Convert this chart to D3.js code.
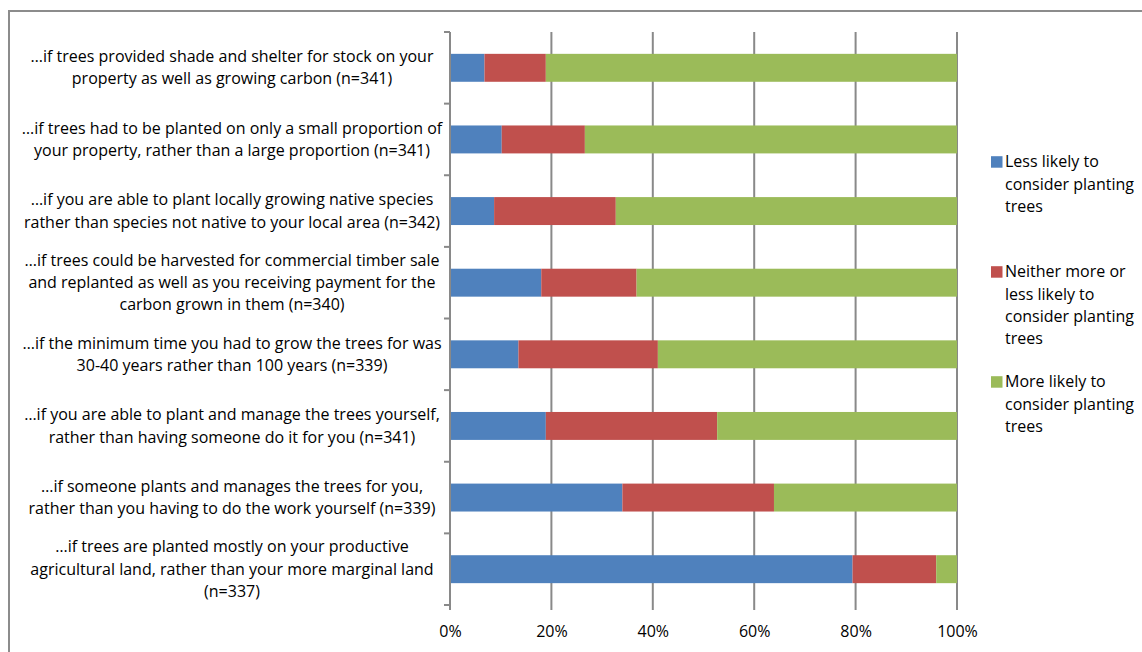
<!DOCTYPE html>
<html><head><meta charset="utf-8">
<script src="https://cdn.jsdelivr.net/npm/d3@7"></script>
<style>
html,body{margin:0;padding:0;background:#fff;}
svg{display:block;}
text{font-family:"Open Sans",sans-serif;fill:#000;}
</style></head>
<body>
<svg id="chart" width="1142" height="652"></svg>
<script>
const categories = [
  ["…if trees provided shade and shelter for stock on your","property as well as growing carbon (n=341)"],
  ["…if trees had to be planted on only a small proportion of","your property, rather than a large proportion (n=341)"],
  ["…if you are able to plant locally growing native species","rather than species not native to your local area (n=342)"],
  ["…if trees could be harvested for commercial timber sale","and replanted as well as you receiving payment for the","carbon grown in them (n=340)"],
  ["…if the minimum time you had to grow the trees for was","30-40 years rather than 100 years (n=339)"],
  ["…if you are able to plant and manage the trees yourself,","rather than having someone do it for you (n=341)"],
  ["…if someone plants and manages the trees for you,","rather than you having to do the work yourself (n=339)"],
  ["…if trees are planted mostly on your productive","agricultural land, rather than your more marginal land","(n=337)"]
];
const lessLikely    = [6.8, 10.2, 8.7, 18.0, 13.5, 18.9, 34.0, 79.4];
const neither       = [12.1, 16.4, 24.0, 18.8, 27.5, 33.8, 29.9, 16.5];
const moreLikely    = [81.1, 73.4, 67.3, 63.2, 59.0, 47.3, 36.1, 4.1];
const seriesNames = [
  ["Less likely to","consider planting","trees"],
  ["Neither more or","less likely to","consider planting","trees"],
  ["More likely to","consider planting","trees"]
];
const seriesColors = ["#4F81BD","#C0504D","#9BBB59"];
const tickValues = [0,20,40,60,80,100];

(function(){
const svg = d3.select("#chart");
const gridColor = "#898989";
const fs = 16;

// outer frame
svg.append("path").attr("d","M9,660 L9,11 L1150,11")
  .attr("fill","none").attr("stroke","#8c8c8c").attr("stroke-width",2);

const pLeft=450, pRight=957, pTop=32, pBottom=605;
const x = d3.scaleLinear().domain([0,100]).range([pLeft,pRight]);
const idx = d3.range(categories.length);
const y = d3.scaleBand().domain(idx).range([pTop,pBottom]).paddingInner(0.61).paddingOuter(0.305);
const step = (pBottom-pTop)/categories.length;

// gridlines
svg.append("g").selectAll("line").data(tickValues.slice(1)).join("line")
  .attr("x1",d=>x(d)).attr("x2",d=>x(d)).attr("y1",pTop).attr("y2",pBottom+5)
  .attr("stroke",gridColor).attr("stroke-width",2);

// stacked bars
const stackData = idx.map(i=>({i, s0:lessLikely[i], s1:neither[i], s2:moreLikely[i]}));
const stack = d3.stack().keys(["s0","s1","s2"])(stackData);
svg.append("g").selectAll("g").data(stack).join("g")
  .attr("fill",(d,k)=>seriesColors[k])
  .selectAll("rect").data(d=>d).join("rect")
  .attr("x",d=>x(d[0])).attr("width",d=>x(d[1])-x(d[0]))
  .attr("y",d=>y(d.data.i)).attr("height",y.bandwidth());

// y axis
const yaxis = svg.append("g");
yaxis.append("line").attr("x1",pLeft).attr("x2",pLeft).attr("y1",pTop).attr("y2",pBottom+5)
  .attr("stroke",gridColor).attr("stroke-width",2);
yaxis.selectAll("line.tk").data(d3.range(categories.length+1)).join("line").attr("class","tk")
  .attr("x1",pLeft-6).attr("x2",pLeft).attr("y1",k=>pTop+k*step).attr("y2",k=>pTop+k*step)
  .attr("stroke",gridColor).attr("stroke-width",2);

// x axis
const xAxis = d3.axisBottom(x).tickValues(tickValues).tickFormat(d=>d+"%").tickSize(0).tickPadding(0);
const xg = svg.append("g").attr("transform",`translate(0,${pBottom})`).call(xAxis);
xg.select(".domain").remove();
xg.selectAll("text").attr("font-size",fs).attr("dy",null).attr("y",32).attr("fill","#000").style("font-family","Open Sans");

// category labels
const lh = 22.3;
const lab = svg.append("g");
idx.forEach(i=>{
  const lines = categories[i];
  const cy = y(i)+y.bandwidth()/2;
  const t = lab.append("text").attr("text-anchor","middle").attr("font-size",fs);
  lines.forEach((s,j)=>{
    t.append("tspan").attr("x",232).attr("y",cy+(j-(lines.length-1)/2)*lh+5.5).text(s);
  });
});

// legend
const legendTops = [161.7, 271.7, 381.7];
const lg = svg.append("g");
seriesNames.forEach((lines,k)=>{
  lg.append("rect").attr("x",991).attr("y",legendTops[k]-5.5).attr("width",11.5).attr("height",11.5)
    .attr("fill",seriesColors[k]);
  const t = lg.append("text").attr("font-size",fs);
  lines.forEach((s,j)=>{
    t.append("tspan").attr("x",1005).attr("y",legendTops[k]+j*lh+5.5).text(s);
  });
});
})();
</script>
</body></html>
